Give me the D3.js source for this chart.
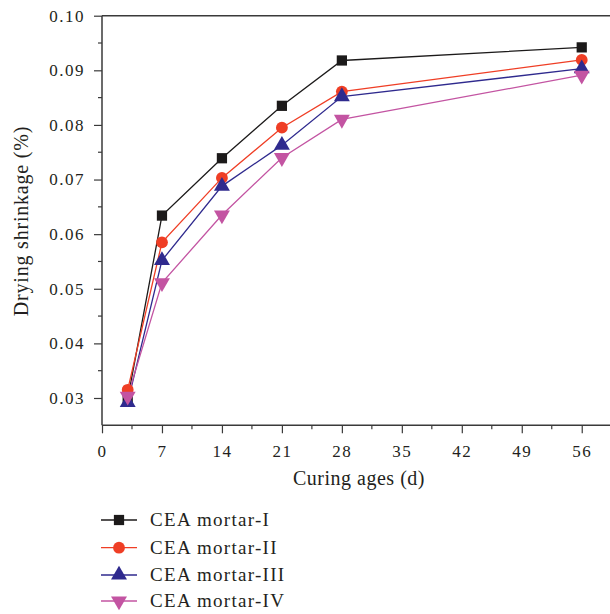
<!DOCTYPE html>
<html>
<head>
<meta charset="utf-8">
<script src="https://cdn.jsdelivr.net/npm/d3@7"></script>
<style>
  body { margin: 0; background: #fff; }
  svg text { font-family: "Liberation Serif", "DejaVu Serif", serif; fill: #231f20; }
</style>
</head>
<body>
<div id="chart"></div>
<script>
// datos
const AGES = [3, 7, 14, 21, 28, 56];
const MORTAR_I = [0.0298, 0.0634, 0.0739, 0.0835, 0.0918, 0.0942];
const MORTAR_II = [0.0315, 0.0585, 0.0703, 0.0795, 0.0861, 0.0919];
const MORTAR_III = [0.0292, 0.0552, 0.0688, 0.0763, 0.0852, 0.0903];
const MORTAR_IV = [0.0303, 0.0511, 0.0635, 0.0740, 0.0810, 0.0891];
const NAMES = ["CEA mortar-I", "CEA mortar-II", "CEA mortar-III", "CEA mortar-IV"];
const X_TICKS = [0, 7, 14, 21, 28, 35, 42, 49, 56];
const Y_TICKS = [0.03, 0.04, 0.05, 0.06, 0.07, 0.08, 0.09, 0.10];

const WIDTH = 610;
const HEIGHT = 614;

const SVG = d3.select("#chart").append("svg")
  .attr("width", WIDTH).attr("height", HEIGHT);

const x = d3.scaleLinear().domain([0, 60]).range([102, 616]);
const y = d3.scaleLinear().domain([0.025, 0.10]).range([425.3, 15.7]);

const colors = ["#1c1a1a", "#ef3e25", "#2f2a8e", "#c354a2"];
const symbols = [d3.symbolSquare, d3.symbolCircle, d3.symbolTriangle, d3.symbolTriangle];
const symSize = [105, 110, 110, 110];
const rot = [0, 0, 0, 180];
const series = [MORTAR_I, MORTAR_II, MORTAR_III, MORTAR_IV];

// ejes
const axisColor = "#3a3a3a";
SVG.append("line").attr("x1", x(0)).attr("x2", x(0))
  .attr("y1", y(0.10)).attr("y2", y(0.025))
  .attr("stroke", axisColor).attr("stroke-width", 1.5);
SVG.append("line").attr("x1", x(0)).attr("x2", WIDTH)
  .attr("y1", y(0.025)).attr("y2", y(0.025))
  .attr("stroke", axisColor).attr("stroke-width", 1.5);
SVG.append("line").attr("x1", x(0)).attr("x2", WIDTH)
  .attr("y1", y(0.10)).attr("y2", y(0.10))
  .attr("stroke", axisColor).attr("stroke-width", 1.5);

const xAxis = d3.axisBottom(x).tickValues(X_TICKS).tickSize(8).tickPadding(12).tickFormat(d3.format("d"));
const gx = SVG.append("g").attr("transform", `translate(0,${y(0.025)})`).call(xAxis);
gx.select(".domain").remove();
gx.selectAll(".tick line").attr("stroke", axisColor).attr("stroke-width", 1.2);
gx.selectAll(".tick text").attr("font-size", 17).attr("letter-spacing", 1.5)
  .attr("font-family", "Liberation Serif").attr("fill", "#231f20");
gx.selectAll(".minor").data(X_TICKS.slice(0, -1).map(d => d + 3.5)).enter()
  .append("line").attr("x1", d => x(d)).attr("x2", d => x(d))
  .attr("y1", 0).attr("y2", 4).attr("stroke", axisColor).attr("stroke-width", 1.2);

const yAxis = d3.axisLeft(y).tickValues(Y_TICKS).tickSize(8).tickPadding(9).tickFormat(d3.format(".2f"));
const gy = SVG.append("g").attr("transform", `translate(${x(0)},0)`).call(yAxis);
gy.select(".domain").remove();
gy.selectAll(".tick line").attr("stroke", axisColor).attr("stroke-width", 1.2);
gy.selectAll(".tick text").attr("font-size", 17).attr("letter-spacing", 1.5)
  .attr("font-family", "Liberation Serif").attr("fill", "#231f20");
gy.selectAll(".minor").data(Y_TICKS.slice(0, -1).map(d => d + 0.005)).enter()
  .append("line").attr("x1", -4).attr("x2", 0)
  .attr("y1", d => y(d)).attr("y2", d => y(d)).attr("stroke", axisColor).attr("stroke-width", 1.2);

// titulos
SVG.append("text").attr("x", 359).attr("y", 485).attr("text-anchor", "middle")
  .attr("font-size", 20).attr("letter-spacing", 0.5).text("Curing ages (d)");
SVG.append("text").attr("transform", "translate(28,221) rotate(-90)").attr("text-anchor", "middle")
  .attr("font-size", 20).attr("letter-spacing", 0.8).text("Drying shrinkage (%)");

// series
const line = d3.line().x((d, i) => x(AGES[i])).y(d => y(d));
series.forEach((vals, s) => {
  SVG.append("path").datum(vals).attr("d", line)
    .attr("fill", "none").attr("stroke", colors[s]).attr("stroke-width", 1.3);
});
series.forEach((vals, s) => {
  SVG.selectAll(null).data(vals).enter().append("path")
    .attr("d", d3.symbol().type(symbols[s]).size(symSize[s]))
    .attr("transform", (d, i) => `translate(${x(AGES[i])},${y(d)}) rotate(${rot[s]})`)
    .attr("fill", colors[s]);
});

// leyenda
const legY = [520, 547.7, 575, 601];
NAMES.forEach((name, s) => {
  const g = SVG.append("g").attr("transform", `translate(0,${legY[s]})`);
  g.append("line").attr("x1", 101).attr("x2", 137).attr("y1", 0).attr("y2", 0)
    .attr("stroke", colors[s]).attr("stroke-width", 1.3);
  g.append("path").attr("d", d3.symbol().type(symbols[s]).size(symSize[s]))
    .attr("transform", `translate(119,0) rotate(${rot[s]})`).attr("fill", colors[s]);
  g.append("text").attr("x", 150).attr("y", 6).attr("font-size", 19)
    .attr("letter-spacing", 1.3).text(name);
});
</script>
</body>
</html>
